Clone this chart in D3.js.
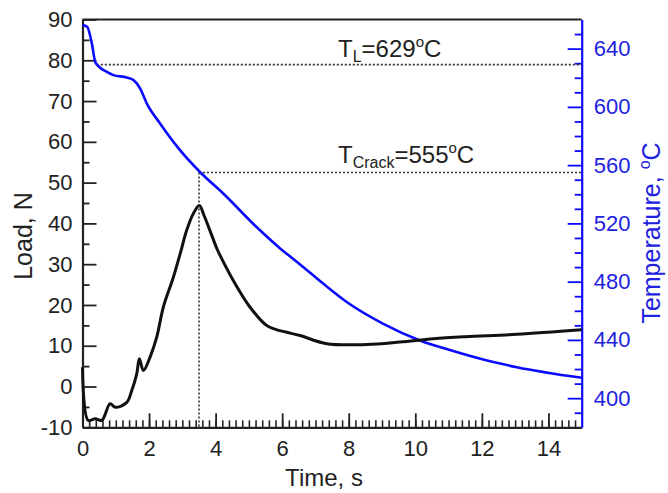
<!DOCTYPE html>
<html>
<head>
<meta charset="utf-8">
<script src="https://cdn.jsdelivr.net/npm/d3@7"></script>
<style>
  html, body { margin: 0; padding: 0; background: #fff; }
  svg { display: block; font-family: "Liberation Sans", Arial, sans-serif; }
</style>
</head>
<body>
<svg id="chart" width="668" height="493"></svg>
<script>
// ---- Data ----
const loadTime = [0, 0.17, 0.38, 0.58, 0.83, 0.98, 1.33, 1.48, 1.63, 1.71, 1.83, 2.03, 2.23, 2.43, 2.73, 2.95, 3.13, 3.33, 3.51, 3.65, 3.85, 4.05, 4.3, 4.53, 5.03, 5.53, 5.8, 6.14, 6.54, 7.34, 8.54, 9.54, 10.54, 11.5, 13.05, 15.0];
const loadValues = [4.7, -8.3, -7.9, -8.3, -4.2, -5.1, -3.9, -1.0, 3.1, 6.8, 3.9, 7.2, 12.1, 19.5, 26.8, 33.0, 38.3, 42.4, 44.4, 42.0, 37.8, 33.6, 29.5, 26.0, 19.5, 15.0, 14.0, 13.3, 12.5, 10.5, 10.3, 10.9, 11.7, 12.2, 12.8, 13.9];

const tempTime = [0, 0.14, 0.28, 0.38, 0.47, 0.73, 0.93, 1.33, 1.53, 1.73, 1.93, 2.33, 2.93, 3.53, 4.23, 5.23, 5.93, 6.53, 7.24, 7.94, 9.04, 10.14, 11.04, 12.04, 13.05, 15.0];
const tempValues = [656.2, 655, 643.6, 631, 628.2, 624, 621.8, 620.2, 618.4, 612.7, 602.4, 588.6, 570.3, 555.3, 540.5, 517.5, 503, 492, 478.5, 466, 451, 439.6, 433, 426.5, 421.3, 414];

const xTicks = [0, 2, 4, 6, 8, 10, 12, 14];
const loadTicks = [-10, 0, 10, 20, 30, 40, 50, 60, 70, 80, 90];
const tempTicks = [400, 440, 480, 520, 560, 600, 640];

const tLiquidus = 629;       // T_L
const tLiquidusTime = 0.43;  // where the dotted T_L line starts
const tCrack = 555;          // T_Crack
const tCrackTime = 3.5;      // time of crack

// ---- Layout ----
const svg = d3.select("#chart");
const pL = 82.5, pR = 581.7, pT = 19.5, pB = 427.3;

const x = d3.scaleLinear().domain([0, 15]).range([pL, pR]);
const yL = d3.scaleLinear().domain([-10, 90]).range([pB, pT]);
const yT = d3.scaleLinear().domain([380, 660]).range([pB, pT]);

const blue = "#0a0aff";
const blueText = "#2121e0";
const ink = "#222";
const fmt = d => String(d);

function range(a, b, s) { const r = []; for (let v = a; v <= b + 1e-9; v += s) r.push(+v.toFixed(4)); return r; }

// ---- Axes ----
svg.append("g").attr("transform", `translate(0,${pB})`)
  .call(d3.axisBottom(x).tickValues(range(0.2, 14.8, 0.2)).tickSize(-7).tickFormat(""))
  .call(g => g.select(".domain").remove())
  .call(g => g.selectAll("line").attr("stroke", ink).attr("stroke-width", 1.6));
svg.append("g").attr("transform", `translate(0,${pB})`)
  .call(d3.axisBottom(x).tickValues(xTicks).tickFormat(fmt).tickSize(-14).tickPadding(13).tickSizeOuter(0))
  .call(g => g.select(".domain").attr("stroke", ink).attr("stroke-width", 2.2))
  .call(g => g.selectAll("line").attr("stroke", ink).attr("stroke-width", 1.8))
  .call(g => g.selectAll("text").attr("fill", ink).attr("font-size", 22));

svg.append("g").attr("transform", `translate(${pL},0)`)
  .call(d3.axisLeft(yL).tickValues(range(-5, 85, 10)).tickSize(-7).tickFormat(""))
  .call(g => g.select(".domain").remove())
  .call(g => g.selectAll("line").attr("stroke", ink).attr("stroke-width", 1.8));
svg.append("g").attr("transform", `translate(${pL},0)`)
  .call(d3.axisLeft(yL).tickValues(loadTicks).tickFormat(fmt).tickSize(-14).tickPadding(10).tickSizeOuter(0))
  .call(g => g.select(".domain").attr("stroke", ink).attr("stroke-width", 2.2))
  .call(g => g.selectAll("line").attr("stroke", ink).attr("stroke-width", 1.8))
  .call(g => g.selectAll("text").attr("fill", ink).attr("font-size", 22));

svg.append("line").attr("x1", pL).attr("x2", pR).attr("y1", pT).attr("y2", pT)
  .attr("stroke", ink).attr("stroke-width", 2);

svg.append("g").attr("transform", `translate(${pR},0)`)
  .call(d3.axisRight(yT).tickValues(range(390, 650, 10).filter(v => v % 40 !== 0)).tickSize(-7).tickFormat(""))
  .call(g => g.select(".domain").remove())
  .call(g => g.selectAll("line").attr("stroke", blue).attr("stroke-width", 1.8));
svg.append("g").attr("transform", `translate(${pR},0)`)
  .call(d3.axisRight(yT).tickValues(tempTicks).tickFormat(fmt).tickSize(-14).tickPadding(12).tickSizeOuter(0))
  .call(g => g.select(".domain").attr("stroke", blue).attr("stroke-width", 2.2))
  .call(g => g.selectAll("line").attr("stroke", blue).attr("stroke-width", 1.8))
  .call(g => g.selectAll("text").attr("fill", blueText).attr("font-size", 22));

// ---- Reference dotted lines ----
function dotted(x1, y1, x2, y2) {
  svg.append("line").attr("x1", x1).attr("y1", y1).attr("x2", x2).attr("y2", y2)
    .attr("stroke", "#333").attr("stroke-width", 1.6).attr("stroke-dasharray", "2,2");
}
dotted(x(tLiquidusTime), yT(tLiquidus), pR, yT(tLiquidus));
dotted(x(tCrackTime), yT(tCrack), pR, yT(tCrack));
dotted(x(tCrackTime), yT(tCrack), x(tCrackTime), pB);

// ---- Series ----
const loadData = loadTime.map((t, i) => [t, loadValues[i]]);
const tempData = tempTime.map((t, i) => [t, tempValues[i]]);

svg.append("path").datum(tempData)
  .attr("fill", "none").attr("stroke", blue).attr("stroke-width", 2.6)
  .attr("d", d3.line().x(d => x(d[0])).y(d => yT(d[1])).curve(d3.curveMonotoneX));

svg.append("path").datum(loadData)
  .attr("fill", "none").attr("stroke", "#111").attr("stroke-width", 3).attr("stroke-linejoin", "round")
  .attr("d", d3.line().x(d => x(d[0])).y(d => yL(d[1])).curve(d3.curveCatmullRom.alpha(0.5)));

// ---- Annotations ----
function annot(yPos, sub, val) {
  const a = svg.append("text").attr("x", 338).attr("y", yPos).attr("font-size", 24).attr("fill", ink);
  a.append("tspan").text("T");
  a.append("tspan").attr("font-size", 16).attr("dy", 5).text(sub);
  a.append("tspan").attr("dy", -5).text("=" + val);
  a.append("tspan").attr("font-size", 15).attr("dy", -10).text("o");
  a.append("tspan").attr("dy", 10).text("C");
}
annot(57, "L", tLiquidus);
annot(163, "Crack", tCrack);

// ---- Axis titles ----
svg.append("text").attr("x", 324).attr("y", 486)
  .attr("text-anchor", "middle").attr("font-size", 24).attr("fill", ink).text("Time, s");

svg.append("text").attr("transform", "translate(32,236) rotate(-90)")
  .attr("text-anchor", "middle").attr("font-size", 25).attr("fill", ink).text("Load, N");

const tt = svg.append("text").attr("transform", "translate(660,233) rotate(-90)")
  .attr("text-anchor", "middle").attr("font-size", 25).attr("fill", blueText);
tt.append("tspan").text("Temperature, ");
tt.append("tspan").attr("font-size", 16).attr("dy", -10).text("o");
tt.append("tspan").attr("dy", 10).text("C");
</script>
</body>
</html>
